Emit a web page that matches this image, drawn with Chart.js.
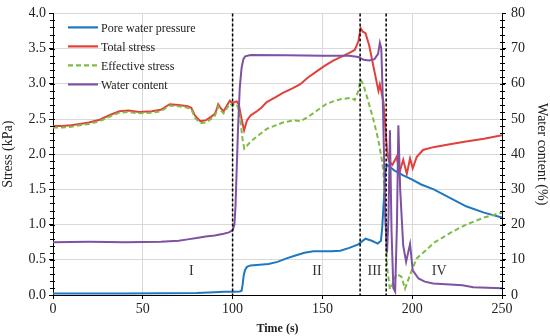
<!DOCTYPE html>
<html>
<head>
<meta charset="utf-8">
<script src="https://cdn.jsdelivr.net/npm/chart.js@4.4.0/dist/chart.umd.min.js"></script>
<style>
html, body { margin: 0; padding: 0; background: #fff; }
#wrap { width: 550px; height: 336px; }
</style>
</head>
<body>
<div id="wrap"><canvas id="stressChart"></canvas></div>
<script>
// [time (s), value]
const porePressure = [[0,0.02],[20,0.02],[40,0.02],[60,0.025],[80,0.03],[90,0.04],[95,0.045],[100,0.045],[104,0.05],[105,0.06],[105.6,0.15],[106.2,0.28],[107,0.36],[108,0.40],[110,0.42],[115,0.43],[120,0.44],[125,0.47],[130,0.52],[135,0.56],[140,0.60],[145,0.62],[150,0.62],[155,0.62],[160,0.63],[165,0.67],[170,0.72],[174,0.80],[177.5,0.77],[180.8,0.73],[182.6,0.77],[183.3,0.95],[184.2,1.35],[185,1.75],[186,1.85],[188,1.81],[190,1.77],[195,1.70],[200,1.64],[205,1.57],[212,1.50],[221,1.38],[230,1.26],[240,1.17],[250,1.10]];

const totalStress = [[0,2.40],[5,2.40],[10,2.41],[15,2.43],[20,2.45],[26,2.49],[32,2.56],[37,2.61],[42,2.62],[48,2.60],[55,2.61],[60,2.63],[65,2.71],[70,2.70],[75,2.68],[77,2.66],[79,2.55],[82,2.47],[85,2.48],[88,2.53],[90,2.57],[91,2.63],[92,2.71],[93.5,2.65],[95,2.61],[97,2.70],[98.5,2.76],[100,2.72],[101,2.74],[102.3,2.75],[103.5,2.70],[105,2.50],[106.4,2.34],[108,2.48],[110,2.55],[113,2.60],[116,2.66],[119,2.74],[124,2.81],[128,2.87],[133,2.93],[137.5,2.99],[142,3.09],[147,3.18],[151,3.25],[156,3.33],[161,3.39],[165,3.44],[168,3.48],[170,3.60],[171.3,3.79],[172.5,3.74],[174,3.72],[176,3.55],[178.4,3.25],[181.2,2.90],[182,2.99],[184,2.74],[185,2.40],[186,2.05],[187,1.90],[189,1.85],[191.3,1.96],[193,1.75],[195,1.92],[197,1.72],[198.8,1.94],[200.3,1.80],[202.5,1.96],[206,2.06],[211.7,2.10],[221,2.14],[230,2.18],[240,2.22],[250,2.27]];

const effectiveStress = [[0,2.38],[5,2.38],[10,2.39],[15,2.41],[20,2.43],[26,2.47],[32,2.54],[37,2.59],[42,2.60],[48,2.58],[55,2.59],[60,2.61],[65,2.69],[70,2.68],[75,2.66],[77,2.64],[79,2.52],[82,2.44],[85,2.45],[88,2.50],[90,2.54],[91,2.60],[92,2.68],[93.5,2.62],[95,2.58],[97,2.66],[98.5,2.72],[100,2.69],[101,2.71],[102.3,2.71],[103.5,2.62],[104.5,2.45],[105.5,2.22],[106.5,2.08],[108,2.12],[110,2.18],[115,2.28],[119,2.36],[124,2.41],[128,2.45],[134,2.48],[138,2.47],[142,2.53],[147,2.62],[152,2.71],[156,2.75],[160,2.78],[166,2.80],[168,2.77],[170,2.90],[171.2,3.06],[172.8,2.99],[175,2.80],[178.3,2.50],[181,2.22],[183,1.94],[184,1.75],[185,1.20],[186,0.40],[187.6,0.08],[189,0.15],[191.3,0.30],[194,0.26],[196,0.09],[199,0.30],[202.5,0.52],[207,0.62],[212,0.74],[216,0.80],[221,0.88],[230,1.00],[240,1.10],[250,1.17]];

const waterContent = [[0,15.0],[20,15.1],[40,15.0],[60,15.1],[70,15.4],[75,15.8],[80,16.2],[85,16.6],[90,16.9],[95,17.4],[98,17.8],[100,18.4],[101,20],[101.6,25],[102.3,36],[103,47],[104,59],[105,64.5],[106,67],[107,67.8],[110,68.2],[130,68.1],[150,68.0],[165,68.0],[170,67.6],[173,66.8],[176,66.6],[179,67.0],[181,68.5],[182,71.6],[182.8,70],[183.5,58],[184.3,40],[185,22],[186,12],[186.8,22],[187.6,46.8],[188.5,18],[189.5,2],[190.5,1],[191.5,20],[192.3,48.2],[193.3,30],[195,14],[196.6,9.4],[198.8,14.5],[200.3,7],[203.5,4.7],[207,3.8],[211.7,3.3],[228,2.8],[234,2.2],[250,1.9]];

const stageBounds = [100, 171, 185.5];
const stageNames = ['I', 'II', 'III', 'IV'];
const stageLabelAt = [77, 147, 179, 215];

const serif = '"Liberation Serif", "Times New Roman", serif';

function toPoints(arr) {
    return arr.map(p => ({ x: p[0], y: p[1] }));
}

const stagePlugin = {
    id: 'stages',
    afterDatasetsDraw(chart) {
        const { ctx, chartArea, scales } = chart;
        ctx.save();
        ctx.strokeStyle = '#000';
        ctx.lineWidth = 1.5;
        ctx.setLineDash([3, 2]);
        stageBounds.forEach(t => {
            const x = scales.x.getPixelForValue(t);
            ctx.beginPath();
            ctx.moveTo(x, chartArea.top);
            ctx.lineTo(x, chartArea.bottom);
            ctx.stroke();
        });
        ctx.setLineDash([]);
        ctx.fillStyle = '#333';
        ctx.font = '14px ' + serif;
        ctx.textAlign = 'center';
        ctx.textBaseline = 'middle';
        stageNames.forEach((n, i) => {
            ctx.fillText(n, scales.x.getPixelForValue(stageLabelAt[i]), scales.y.getPixelForValue(0.33));
        });
        ctx.restore();
    }
};

const legendPlugin = {
    id: 'boxLegend',
    afterDraw(chart) {
        const { ctx, chartArea } = chart;
        const items = [0, 1, 2, 3].map(i => chart.data.datasets[i]);
        ctx.save();
        ctx.font = '12px ' + serif;
        ctx.textBaseline = 'middle';
        items.forEach((ds, i) => {
            const y = chartArea.top + 14 + i * 19;
            const x0 = chartArea.left + 15;
            ctx.strokeStyle = ds.borderColor;
            ctx.lineWidth = 2.2;
            ctx.setLineDash(ds.borderDash || []);
            ctx.beginPath();
            ctx.moveTo(x0, y);
            ctx.lineTo(x0 + 30, y);
            ctx.stroke();
            ctx.setLineDash([]);
            ctx.fillStyle = '#222';
            ctx.fillText(ds.label, x0 + 33, y + 1);
        });
        ctx.restore();
    }
};

const minorTicks = {
    id: 'minorTicks',
    afterDraw(chart) {
        const { ctx, scales } = chart;
        ctx.save();
        ctx.strokeStyle = '#000';
        ctx.lineWidth = 1;
        for (let v = 0.1; v < 4; v += 0.1) {
            const y = Math.round(scales.y.getPixelForValue(v)) + 0.5;
            ctx.beginPath();
            ctx.moveTo(scales.y.right - 3, y);
            ctx.lineTo(scales.y.right + 2, y);
            ctx.stroke();
        }
        for (let v = 2; v < 80; v += 2) {
            const y = Math.round(scales.y1.getPixelForValue(v)) + 0.5;
            ctx.beginPath();
            ctx.moveTo(scales.y1.left - 2, y);
            ctx.lineTo(scales.y1.left + 3, y);
            ctx.stroke();
        }
        ctx.restore();
    }
};

const ctx = document.getElementById('stressChart').getContext('2d');
new Chart(ctx, {
    type: 'line',
    data: {
        datasets: [
            { label: 'Pore water pressure', data: toPoints(porePressure), borderColor: '#1f78bf', yAxisID: 'y', order: 2 },
            { label: 'Total stress', data: toPoints(totalStress), borderColor: '#e2403b', yAxisID: 'y', order: 3 },
            { label: 'Effective stress', data: toPoints(effectiveStress), borderColor: '#7fbc45', borderDash: [5, 3], yAxisID: 'y', order: 1 },
            { label: 'Water content', data: toPoints(waterContent), borderColor: '#7e51a1', yAxisID: 'y1', order: 0 }
        ]
    },
    options: {
        responsive: true,
        maintainAspectRatio: false,
        animation: false,
        layout: { padding: { top: 9 } },
        elements: {
            point: { radius: 0 },
            line: { borderWidth: 2, tension: 0, fill: false }
        },
        plugins: {
            legend: { display: false },
            tooltip: { enabled: false }
        },
        scales: {
            x: {
                type: 'linear',
                min: 0, max: 250,
                ticks: { stepSize: 50, color: '#222', font: { family: serif, size: 14 }, padding: 2 },
                grid: { color: '#d9d9d9', tickColor: '#000', tickLength: 4 },
                border: { color: '#000' },
                title: { display: true, text: 'Time (s)', color: '#222', font: { family: serif, size: 12, weight: 'bold' }, padding: { top: 0, bottom: 0 } },
                afterFit(scale) { scale.height = 41; }
            },
            y: {
                position: 'left',
                min: 0, max: 4,
                ticks: { stepSize: 0.5, color: '#222', font: { family: serif, size: 14 }, padding: 3, callback: v => v.toFixed(1) },
                grid: { color: '#d9d9d9', tickColor: '#000', tickLength: 4 },
                border: { color: '#000' },
                title: { display: true, text: 'Stress (kPa)', color: '#222', font: { family: serif, size: 14 }, padding: { top: 0, bottom: 0 } },
                afterFit(scale) { scale.width = 53; }
            },
            y1: {
                position: 'right',
                min: 0, max: 80,
                ticks: { stepSize: 10, color: '#222', font: { family: serif, size: 14 }, padding: 5 },
                grid: { drawOnChartArea: false, tickColor: '#000', tickLength: 4 },
                border: { color: '#000' },
                title: { display: true, text: 'Water content (%)', color: '#222', font: { family: serif, size: 14 }, padding: { top: 0, bottom: 0 } },
                afterFit(scale) { scale.width = 48; }
            }
        }
    },
    plugins: [stagePlugin, legendPlugin, minorTicks]
});
</script>
</body>
</html>
